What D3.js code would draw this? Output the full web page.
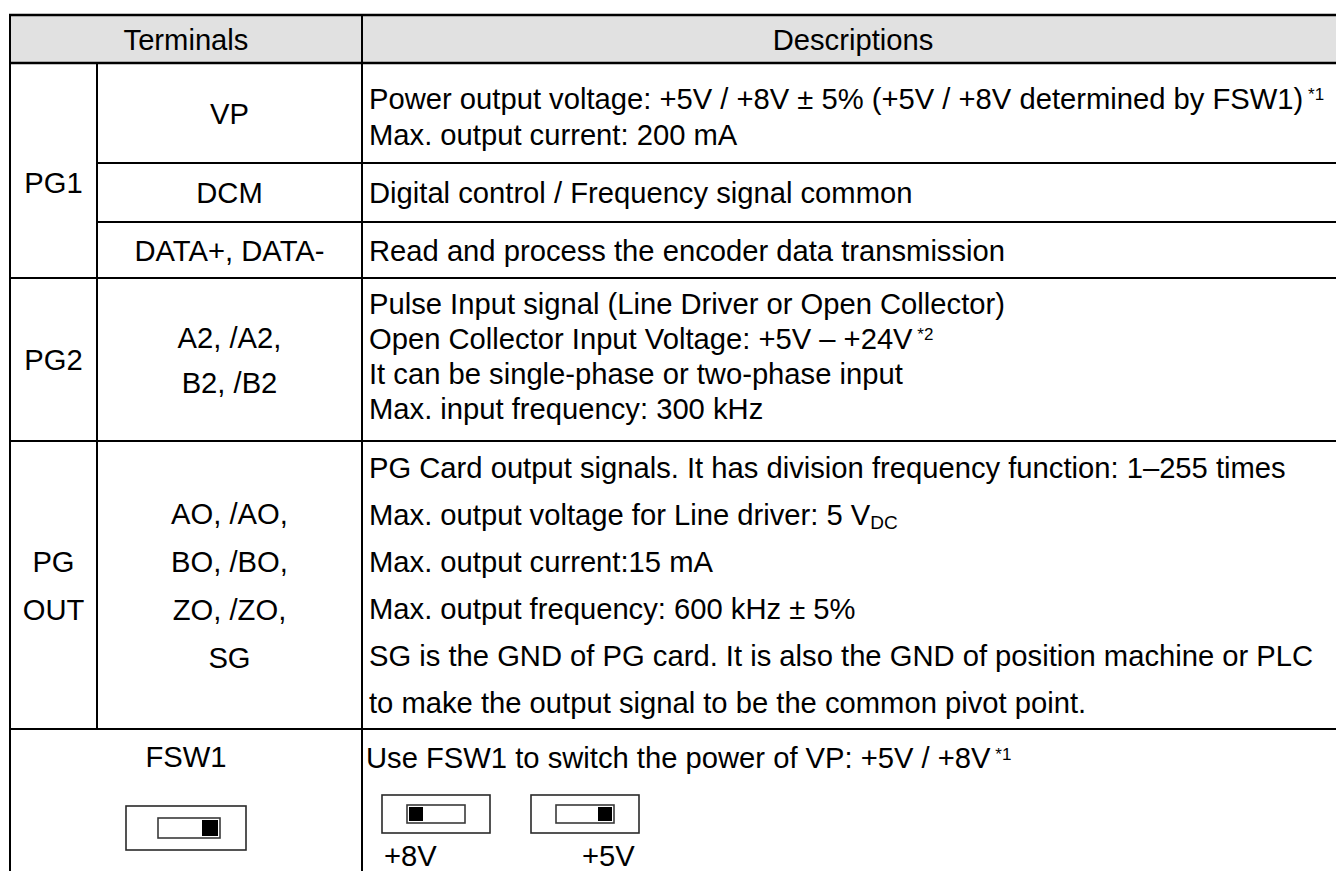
<!DOCTYPE html>
<html><head><meta charset="utf-8">
<script src="https://cdn.jsdelivr.net/npm/d3@7"></script>
<style>html,body{margin:0;padding:0;background:#fff;} svg{display:block;} text{white-space:pre;}</style>
</head><body><svg id="c" width="1336" height="871"></svg>
<script>
// ---------- DATA ----------
const headers = ["Terminals", "Descriptions"];
const groups = [["PG1"], ["PG2"], ["PG", "OUT"]];
const groupRows = [[0, 2], [3, 3], [4, 4]];
const terminals = [["VP"], ["DCM"], ["DATA+, DATA-"], ["A2, /A2,", "B2, /B2"], ["AO, /AO,", "BO, /BO,", "ZO, /ZO,", "SG"]];
const descriptions = [
  ["Power output voltage: +5V / +8V ± 5% (+5V / +8V determined by FSW1)^[ *1]", "Max. output current: 200 mA"],
  ["Digital control / Frequency signal common"],
  ["Read and process the encoder data transmission"],
  ["Pulse Input signal (Line Driver or Open Collector)", "Open Collector Input Voltage: +5V – +24V^[ *2]", "It can be single-phase or two-phase input", "Max. input frequency: 300 kHz"],
  ["PG Card output signals. It has division frequency function: 1–255 times", "Max. output voltage for Line driver: 5 V_[DC]", "Max. output current:15 mA", "Max. output frequency: 600 kHz ± 5%", "SG is the GND of PG card. It is also the GND of position machine or PLC", "to make the output signal to be the common pivot point."]
];
const switchLabel = "FSW1";
const switchDescription = "Use FSW1 to switch the power of VP: +5V / +8V^[ *1]";
const switchStates = ["+8V", "+5V"];
const switchKnobs = ["left", "right"];
const switchDefault = "right";

// ---------- LAYOUT ----------
const W = 1336, H = 871;
const FONT = "'Liberation Sans', Arial, Helvetica, sans-serif";
const FS = 29.2, CAP = 10.5;
const xEdges = [10, 97, 362, 1344];
const rowEdges = [15, 63, 163, 222, 278, 441, 729, 900];
const descGap = [36, 0, 0, 35, 47], descOff = [3, 0, 0, -4, 0];
const termGap = [0, 0, 0, 45, 48];
const groupGap = [0, 0, 48], groupOff = [12, 0, 0];
const descX = 369;
const labelShift = [2, 51];

const svg = d3.select("#c");
const rowTop = i => rowEdges[i + 1], rowBot = i => rowEdges[i + 2];

// header fill
svg.append("rect").attr("x", xEdges[0]).attr("y", rowEdges[0]).attr("width", xEdges[3] - xEdges[0])
  .attr("height", rowEdges[1] - rowEdges[0]).attr("fill", "#e1e1e1");

function rich(sel, str, x, yb, anchor) {
  const t = sel.append("text").attr("x", x).attr("y", yb).attr("text-anchor", anchor || "start")
    .attr("font-family", FONT).attr("font-size", FS).attr("fill", "#000");
  const re = /([\^_])\[([^\]]*)\]/g; let last = 0, m, pend = 0;
  while ((m = re.exec(str))) {
    if (m.index > last) t.append("tspan").attr("dy", pend).text(str.slice(last, m.index)), pend = 0;
    const sup = m[1] === "^";
    t.append("tspan").attr("font-size", sup ? 17 : 19).attr("dy", pend + (sup ? -8.5 : 4)).text(m[2]);
    pend = sup ? 8.5 : -4;
    last = re.lastIndex;
  }
  if (last < str.length) t.append("tspan").attr("dy", pend).text(str.slice(last));
  return t;
}
function lines(sel, arr, x, center, gap, off, anchor) {
  const n = arr.length;
  arr.forEach((s, i) => rich(sel, s, x, center + CAP + off + (i - (n - 1) / 2) * gap, anchor));
}

const g = svg.append("g");
// headers
rich(g, headers[0], (xEdges[0] + xEdges[2]) / 2, (rowEdges[0] + rowEdges[1]) / 2 + CAP, "middle");
rich(g, headers[1], (xEdges[2] + xEdges[3]) / 2, (rowEdges[0] + rowEdges[1]) / 2 + CAP, "middle");

// groups
groups.forEach((lab, gi) => {
  const [a, b] = groupRows[gi];
  const c = (rowTop(a) + rowBot(b)) / 2;
  lines(g, lab, (xEdges[0] + xEdges[1]) / 2, c, groupGap[gi], groupOff[gi], "middle");
});
// terminals
terminals.forEach((lab, i) => {
  const c = (rowTop(i) + rowBot(i)) / 2;
  lines(g, lab, (xEdges[1] + xEdges[2]) / 2, c, termGap[i], 0, "middle");
});
// descriptions
descriptions.forEach((arr, i) => {
  const c = (rowTop(i) + rowBot(i)) / 2;
  lines(g, arr, descX, c, descGap[i], descOff[i], "start");
});

// FSW1 row
const fTop = rowEdges[6];
rich(g, switchLabel, (xEdges[0] + xEdges[2]) / 2, fTop + 38, "middle");
rich(g, switchDescription, descX - 3, fTop + 39, "start");

function drawSwitch(sel, x0, y0, w, h, iw, ih, side) {
  const s = sel.append("g");
  s.append("rect").attr("x", x0).attr("y", y0).attr("width", w).attr("height", h)
    .attr("fill", "#fff").attr("stroke", "#2a2a2a").attr("stroke-width", 1.6);
  const ix = x0 + (w - iw) / 2 + (side === "right" && w > 115 ? 3 : 0), iy = y0 + (h - ih) / 2;
  s.append("rect").attr("x", ix).attr("y", iy).attr("width", iw).attr("height", ih)
    .attr("fill", "#fff").attr("stroke", "#3a3a3a").attr("stroke-width", 1.6);
  const k = ih - 4;
  s.append("rect").attr("x", side === "left" ? ix + 2 : ix + iw - 2 - k).attr("y", iy + 2)
    .attr("width", k).attr("height", k).attr("fill", "#000");
}
// default switch in FSW1 column
drawSwitch(g, (xEdges[0] + xEdges[2]) / 2 - 60, fTop + 77, 120, 44, 62, 20, switchDefault);
// state switches in description column
const sx = d3.scalePoint().domain(switchStates).range([descX + 13, descX + 162]);
switchStates.forEach((lab, i) => {
  drawSwitch(g, sx(lab), fTop + 66, 108, 38, 58, 18, switchKnobs[i]);
  rich(g, lab, sx(lab) + labelShift[i], fTop + 137, "start");
});

// grid lines
const L = svg.append("g").attr("stroke", "#000").attr("fill", "none");
function hl(x1, x2, yy, w) { L.append("line").attr("x1", x1).attr("x2", x2).attr("y1", yy).attr("y2", yy).attr("stroke-width", w); }
function vl(xx, y1, y2, w) { L.append("line").attr("x1", xx).attr("x2", xx).attr("y1", y1).attr("y2", y2).attr("stroke-width", w); }
hl(xEdges[0] - 1, xEdges[3], rowEdges[0], 2.6);
hl(xEdges[0] - 1, xEdges[3], rowEdges[1], 2.6);
hl(xEdges[1], xEdges[3], rowEdges[2], 2);
hl(xEdges[1], xEdges[3], rowEdges[3], 2);
[4, 5, 6].forEach(i => hl(xEdges[0] - 1, xEdges[3], rowEdges[i], 2));
vl(xEdges[0], rowEdges[0], H, 2);
vl(xEdges[1], rowEdges[1], rowEdges[6], 2);
vl(xEdges[2], rowEdges[0], H, 2);
vl(xEdges[3], rowEdges[0], H, 2);
</script></body></html>
